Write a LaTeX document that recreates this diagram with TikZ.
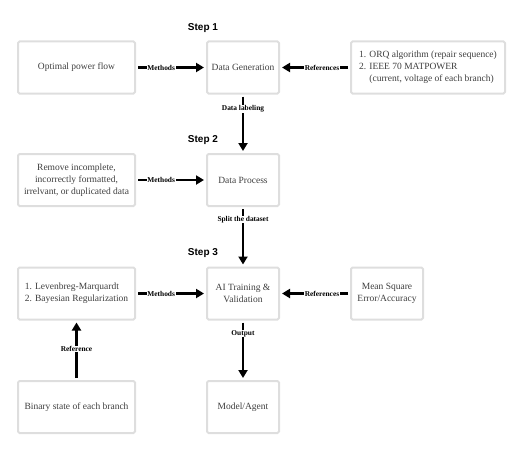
\documentclass[tikz,border=0pt]{standalone}
\usepackage{fontspec}
\setmainfont{Liberation Serif}
\setsansfont{Liberation Sans}
\usepackage{xcolor}
\usetikzlibrary{arrows.meta, positioning}
\definecolor{boxgray}{RGB}{222, 222, 222}
\definecolor{textgray}{RGB}{62, 62, 62}

\begin{document}
\begin{tikzpicture}[x=1pt, y=-1pt,
    font=\fontsize{9.5}{12}\selectfont,
    stage/.style={draw=boxgray, line width=2pt, rounded corners=1.5pt, text=textgray, align=center, inner sep=2pt, minimum height=52pt},
    wide/.style={stage, minimum width=117pt},
    narrow/.style={stage, minimum width=72pt},
    flow/.style={line width=2.9pt, -{Triangle[length=8pt, width=9pt]}, shorten <=2pt, shorten >=2pt},
    tag/.style={fill=white, inner sep=0.6pt, font=\fontsize{7.4}{8}\selectfont\bfseries},
    steplbl/.style={font=\sffamily\bfseries\fontsize{10}{12}\selectfont}
]
    \useasboundingbox (0,0) rectangle (529,452);

    % Step 1
    \node[steplbl] (step1) at (203,28) {Step 1};
    \node[wide] (opf) at (76.5,67.5) {Optimal power flow};
    \node[narrow] (gen) at (243,67.5) {Data Generation};
    \node[stage, minimum width=154pt] (orq) at (428,67.5) {\begin{tabular}{@{}l@{ }l@{}}
        1. & ORQ algorithm (repair sequence)\\
        2. & IEEE 70 MATPOWER\\
           & (current, voltage of each branch)
    \end{tabular}};

    % Step 2
    \node[steplbl] (step2) at (203,140) {Step 2};
    \node[wide] (clean) at (76.5,180) {Remove incomplete,\\ incorrectly formatted,\\ irrelvant, or duplicated data};
    \node[narrow] (proc) at (243,180) {Data Process};

    % Step 3
    \node[steplbl] (step3) at (203,253) {Step 3};
    \node[wide] (lm) at (76.5,293.5) {\begin{tabular}{@{}l@{}}
        1. Levenbreg-Marquardt\\
        2. Bayesian Regularization
    \end{tabular}};
    \node[narrow] (train) at (243,293.5) {AI Training \&\\ Validation};
    \node[narrow] (mse) at (387,293.5) {Mean Square\\ Error/Accuracy};
    \node[wide] (branch) at (76.5,407) {Binary state of each branch};
    \node[narrow] (model) at (243,407) {Model/Agent};

    % connectors
    \draw[flow] (opf) -- (gen) node[tag, pos=0.36] {Methods};
    \draw[flow] (orq) -- (gen) node[tag, pos=0.4] {References};
    \draw[flow] (gen) -- (proc) node[tag, pos=0.24] {Data labeling};
    \draw[flow] (clean) -- (proc) node[tag, pos=0.36] {Methods};
    \draw[flow] (proc) -- (train) node[tag, pos=0.21] {Split the dataset};
    \draw[flow] (lm) -- (train) node[tag, pos=0.36] {Methods};
    \draw[flow] (mse) -- (train) node[tag, pos=0.4] {References};
    \draw[flow] (train) -- (model) node[tag, pos=0.22] {Output};
    \draw[flow] (branch) -- (lm) node[tag, pos=0.52] {Reference};
\end{tikzpicture}
\end{document}
